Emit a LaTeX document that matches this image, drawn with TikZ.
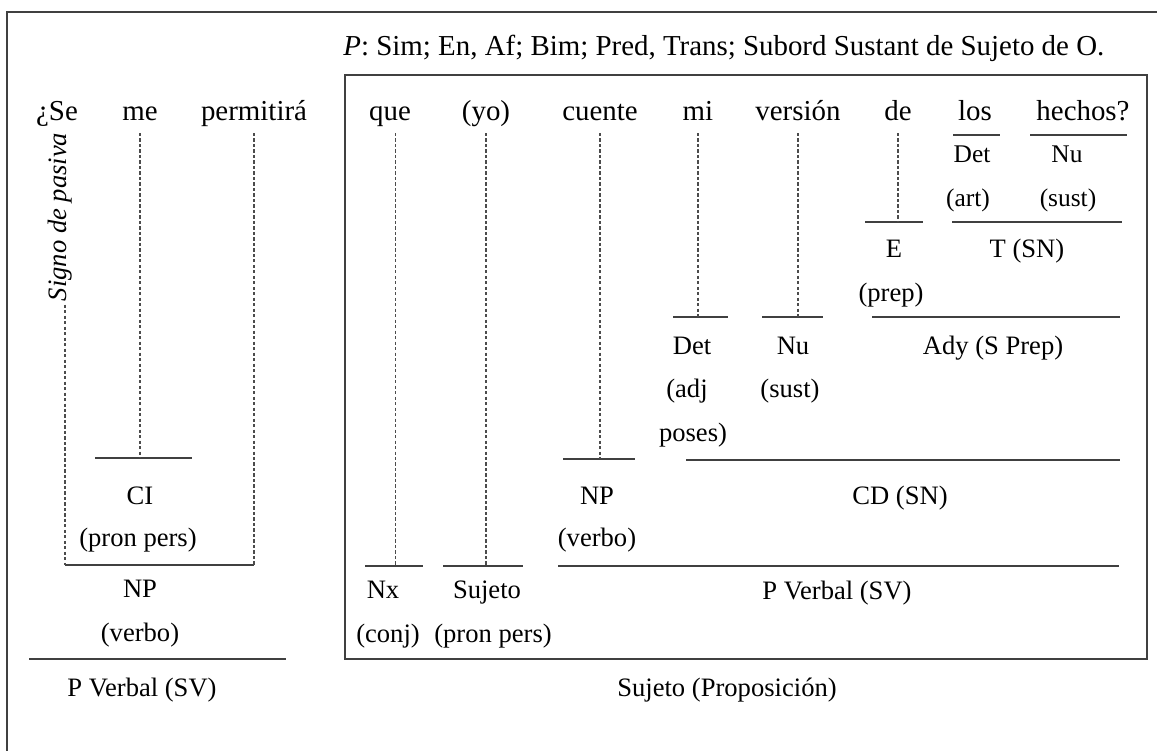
\documentclass[tikz,border=0pt]{standalone}
\usepackage{fontspec}
\setmainfont{Liberation Serif}
\usetikzlibrary{positioning}

\begin{document}
\begin{tikzpicture}[x=0.346pt, y=-0.346pt, node distance = 1 cm]
				\tikzstyle{word} = [inner sep=1pt, anchor=base, font=\fontsize{10}{12}\selectfont]
				\tikzstyle{lab} = [inner sep=1pt, anchor=base, font=\fontsize{9.2}{11}\selectfont]
				\tikzstyle{small} = [inner sep=1pt, anchor=base, font=\fontsize{8.8}{11}\selectfont]
				\tikzstyle{link} = [black!70, line width=0.4pt, dash pattern=on 1.1pt off 0.8pt]
				\tikzstyle{bar} = [black!75, line width=0.5pt]
				\tikzstyle{frame} = [black!75, line width=0.6pt]
				
				\useasboundingbox (0,0) rectangle (1157,751);
				\draw[frame] (7,751) -- (7,12) -- (1157,12);
				\draw[frame] (345,75) rectangle (1147,659);
				
				\node[word, anchor=base west] at (340,55) (title) {\textit{P}: Sim; En, Af; Bim; Pred, Trans; Subord Sustant de Sujeto de O.};
				\coordinate (top) at (0,133);
				
				% oracion principal
				\node[word] 	at (57, 120) 	(se) 	{¿Se};
				\node[word] 	at (140, 120) 	(me) 	{me};
				\node[word] 	at (254, 120) 	(perm) 	{permitirá};
				\node[inner sep=1pt, rotate=90, font=\fontsize{9.2}{11}\selectfont\itshape] at (60, 217) (signo) {Signo de pasiva};
				
				\coordinate (vL) at (65, 565);
				\coordinate (vR) at (254, 565);
				\coordinate (ciL) at (95, 458);
				\coordinate (ciR) at (192, 458);
				\coordinate (pvL) at (29, 659);
				\coordinate (pvR) at (286, 659);
				\draw[bar] (ciL) -- (ciR);
				\draw[bar] (vL) -- (vR);
				\draw[bar] (pvL) -- (pvR);
				\draw[link] (vL |- signo.west) -- (vL);
				\draw[link] (me |- top) -- (me |- ciL);
				\draw[link] (perm |- top) -- (vR);
				
				\node[lab] 	at (140, 504) 	(ci) 	{CI};
				\node[lab] 	at (138, 546) 	(ciw) 	{(pron pers)};
				\node[lab] 	at (140, 597) 	(np) 	{NP};
				\node[lab] 	at (140, 641) 	(npw) 	{(verbo)};
				\node[lab] 	at (142, 696) 	(pv) 	{P Verbal (SV)};
				
				% proposicion subordinada
				\node[word] 	at (390, 120) 	(que) 	{que};
				\node[word] 	at (486, 120) 	(yo) 	{(yo)};
				\node[word] 	at (600, 120) 	(cuente) 	{cuente};
				\node[word] 	at (698, 120) 	(mi) 	{mi};
				\node[word] 	at (798, 120) 	(version) 	{versión};
				\node[word] 	at (898, 120) 	(de) 	{de};
				\node[word] 	at (975, 120) 	(los) 	{los};
				\node[word] 	at (1083, 120) 	(hechos) 	{hechos?};
				
				\coordinate (nxL) at (365, 566);	\coordinate (nxR) at (423, 566);
				\coordinate (sjL) at (443, 566);	\coordinate (sjR) at (523, 566);
				\coordinate (pv2L) at (558, 566);	\coordinate (pv2R) at (1119, 566);
				\coordinate (np2L) at (563, 459);	\coordinate (np2R) at (635, 459);
				\coordinate (cdL) at (686, 460);	\coordinate (cdR) at (1120, 460);
				\coordinate (detL) at (673, 317);	\coordinate (detR) at (728, 317);
				\coordinate (nuL) at (762, 317);	\coordinate (nuR) at (823, 317);
				\coordinate (adyL) at (872, 317);	\coordinate (adyR) at (1120, 317);
				\coordinate (eL) at (865, 222);	\coordinate (eR) at (923, 222);
				\coordinate (tL) at (952, 222);	\coordinate (tR) at (1122, 222);
				\coordinate (losL) at (953, 135);	\coordinate (losR) at (1000, 135);
				\coordinate (hecL) at (1030, 135);	\coordinate (hecR) at (1127, 135);
				
				\draw[bar] (nxL) -- (nxR);
				\draw[bar] (sjL) -- (sjR);
				\draw[bar] (pv2L) -- (pv2R);
				\draw[bar] (np2L) -- (np2R);
				\draw[bar] (cdL) -- (cdR);
				\draw[bar] (detL) -- (detR);
				\draw[bar] (nuL) -- (nuR);
				\draw[bar] (adyL) -- (adyR);
				\draw[bar] (eL) -- (eR);
				\draw[bar] (tL) -- (tR);
				\draw[bar] (losL) -- (losR);
				\draw[bar] (hecL) -- (hecR);
				
				\draw[link] ([xshift=2pt]que |- top) -- ([xshift=2pt]que |- nxL);
				\draw[link] (yo |- top) -- (yo |- sjL);
				\draw[link] (cuente |- top) -- (cuente |- np2L);
				\draw[link] (mi |- top) -- (mi |- detL);
				\draw[link] (version |- top) -- (version |- nuL);
				\draw[link] (de |- top) -- (de |- eL);
				
				\node[lab] 	at (383, 598) 	(nx) 	{Nx};
				\node[lab] 	at (388, 642) 	(nxw) 	{(conj)};
				\node[lab] 	at (487, 598) 	(suj) 	{Sujeto};
				\node[lab] 	at (493, 642) 	(sujw) 	{(pron pers)};
				\node[lab] 	at (597, 504) 	(np2) 	{NP};
				\node[lab] 	at (597, 546) 	(np2w) 	{(verbo)};
				\node[lab] 	at (837, 599) 	(pv2) 	{P Verbal (SV)};
				\node[lab] 	at (727, 696) 	(prop) 	{Sujeto (Proposición)};
				\node[lab] 	at (692, 354) 	(det) 	{Det};
				\node[lab] 	at (687, 397) 	(detw) 	{(adj};
				\node[lab] 	at (693, 441) 	(detw2) 	{poses)};
				\node[lab] 	at (793, 354) 	(nu) 	{Nu};
				\node[lab] 	at (790, 397) 	(nuw) 	{(sust)};
				\node[lab] 	at (993, 354) 	(ady) 	{Ady (S Prep)};
				\node[lab] 	at (900, 504) 	(cd) 	{CD (SN)};
				\node[lab] 	at (894, 257) 	(e) 	{E};
				\node[lab] 	at (891, 301) 	(ew) 	{(prep)};
				\node[lab] 	at (1027, 257) 	(t) 	{T (SN)};
				\node[small] 	at (972, 162) 	(det2) 	{Det};
				\node[small] 	at (968, 206) 	(det2w) 	{(art)};
				\node[small] 	at (1067, 162) 	(nu2) 	{Nu};
				\node[small] 	at (1068, 206) 	(nu2w) 	{(sust)};
\end{tikzpicture}
\end{document}
